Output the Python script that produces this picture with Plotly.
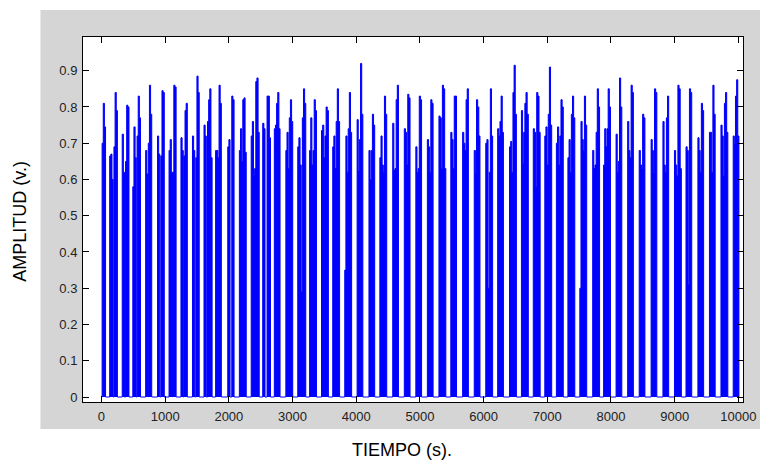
import plotly.graph_objects as go

# ---- data (time in s, amplitude in v.) ----
burst_start = [10, 129, 196, 326, 378, 492, 559, 694, 735, 880, 932, 1061, 1118,
               1248, 1294, 1429, 1481, 1610, 1665, 1792, 1983, 2046, 2165, 2351,
               2532, 2600, 2714, 2895, 3082, 3268, 3455, 3631, 3820, 4014, 4200,
               4371, 4573, 4755, 4936, 5117, 5299, 5485, 5671, 5853, 6034, 6221,
               6407, 6594, 6780, 6961, 7143, 7324, 7511, 7713, 7884, 8080, 8262,
               8443, 8630, 8816, 8997, 9178, 9365, 9546, 9727, 9919]

burst_values = [
    [0.70, 0.81, 0.745],
    [0.665, 0.67, 0.60],
    [0.69, 0.84, 0.79],
    [0.725, 0.62],
    [0.65, 0.805, 0.80],
    [0.58, 0.745, 0.66],
    [0.72, 0.83, 0.77],
    [0.68, 0.615],
    [0.70, 0.86, 0.78],
    [0.72, 0.67],
    [0.665, 0.845, 0.84],
    [0.68, 0.71, 0.62],
    [0.62, 0.86, 0.855],
    [0.715, 0.68],
    [0.665, 0.79, 0.81],
    [0.72, 0.68],
    [0.66, 0.885, 0.84],
    [0.75, 0.72],
    [0.76, 0.82, 0.85, 0.66],
    [0.68, 0.68, 0.66, 0.86, 0.81],
    [0.69, 0.71],
    [0.83, 0.82],
    [0.68, 0.74, 0.65, 0.82, 0.825, 0.675],
    [0.72, 0.76, 0.61, 0.63, 0.87, 0.88, 0.73],
    [0.755, 0.74],
    [0.83, 0.83, 0.715],
    [0.74, 0.75, 0.81, 0.84, 0.74],
    [0.68, 0.73, 0.63, 0.77, 0.82, 0.76],
    [0.69, 0.715, 0.64, 0.29, 0.77, 0.85, 0.81],
    [0.68, 0.77, 0.64, 0.68, 0.82, 0.79],
    [0.735, 0.75, 0.66, 0.72, 0.80, 0.79],
    [0.69, 0.72, 0.63, 0.76, 0.85, 0.76],
    [0.35, 0.72, 0.62, 0.74, 0.84, 0.73],
    [0.765, 0.625, 0.71, 0.92, 0.78],
    [0.68, 0.60, 0.68, 0.78, 0.75],
    [0.66, 0.72, 0.64, 0.62, 0.83, 0.78],
    [0.755, 0.625, 0.63, 0.82, 0.86],
    [0.74, 0.73, 0.64, 0.835, 0.825],
    [0.69, 0.62, 0.63, 0.83, 0.82],
    [0.71, 0.69, 0.62, 0.82, 0.81],
    [0.775, 0.77, 0.63, 0.86, 0.85, 0.63],
    [0.73, 0.71, 0.63, 0.83, 0.83],
    [0.73, 0.70, 0.68, 0.82, 0.85],
    [0.68, 0.62, 0.82, 0.80, 0.72],
    [0.70, 0.71, 0.30, 0.62, 0.85, 0.72],
    [0.74, 0.72, 0.76, 0.83, 0.73],
    [0.69, 0.705, 0.62, 0.84, 0.915, 0.78],
    [0.79, 0.645, 0.73, 0.81, 0.84, 0.78],
    [0.74, 0.73, 0.58, 0.84, 0.83, 0.73],
    [0.72, 0.745, 0.64, 0.78, 0.91, 0.75],
    [0.70, 0.745, 0.64, 0.72, 0.82, 0.80],
    [0.66, 0.71, 0.62, 0.78, 0.83, 0.77],
    [0.30, 0.76, 0.71, 0.68, 0.83, 0.75],
    [0.68, 0.63, 0.64, 0.73, 0.85, 0.80],
    [0.64, 0.74, 0.69, 0.74, 0.85, 0.80],
    [0.725, 0.62, 0.65, 0.88, 0.80],
    [0.76, 0.68, 0.66, 0.86, 0.84],
    [0.68, 0.64, 0.63, 0.78, 0.77],
    [0.71, 0.68, 0.62, 0.85, 0.84],
    [0.76, 0.64, 0.62, 0.77, 0.83],
    [0.68, 0.64, 0.61, 0.86, 0.85, 0.63],
    [0.69, 0.68, 0.31, 0.85, 0.84],
    [0.715, 0.68, 0.62, 0.81, 0.79],
    [0.73, 0.73, 0.62, 0.86, 0.78],
    [0.75, 0.72, 0.61, 0.81, 0.84, 0.73],
    [0.72, 0.70, 0.83, 0.875, 0.72],
]

sample_dt = 18          # s between samples inside a burst
t_start, t_end = 0, 10000

x_ticks = [0, 1000, 2000, 3000, 4000, 5000, 6000, 7000, 8000, 9000, 10000]
x_tick_labels = ["0", "1000", "2000", "3000", "4000", "5000", "6000",
                 "7000", "8000", "9000", "10000"]
y_ticks = [0, 0.1, 0.2, 0.3, 0.4, 0.5, 0.6, 0.7, 0.8, 0.9]
y_tick_labels = ["0", "0.1", "0.2", "0.3", "0.4", "0.5", "0.6", "0.7", "0.8", "0.9"]

# ---- build the signal ----
xs, ys = [t_start], [0.0]
for t0, vals in zip(burst_start, burst_values):
    for k, v in enumerate(vals):
        xs.append(t0 + k * sample_dt)
        ys.append(v)
    xs.append(t0 + len(vals) * sample_dt)
    ys.append(0.0)
xs.append(t_end)
ys.append(0.0)

BLUE = "#0000ff"
fig = go.Figure()
fig.add_trace(go.Scatter(
    x=xs, y=ys, mode="lines",
    line=dict(color=BLUE, width=1, shape="hv"),
    fill="tozeroy", fillcolor=BLUE,
    hoverinfo="skip", showlegend=False,
))

# page has an 8px body margin: the figure starts at (8, 8)
OFF = 8
W, H = 768 - OFF, 461 - OFF
L, R, T, B = 83 - OFF, 18, 37 - OFF, 59
pw, ph = W - L - R, H - T - B

def px(x):  # page pixel x -> paper
    return (x - OFF - L) / pw

def py(y):  # page pixel y -> paper
    return (H - B - (y - OFF)) / ph

tick_font = dict(family="Arial, Liberation Sans, sans-serif", size=13, color="#222222")
axis_common = dict(
    ticks="inside", ticklen=6, tickwidth=1, tickcolor="#000000",
    showline=True, linecolor="#000000", linewidth=1, mirror="ticks",
    showgrid=False, zeroline=False, tickfont=tick_font, fixedrange=True,
)

fig.update_layout(
    width=W, height=H,
    margin=dict(l=L, r=R, t=T, b=B, pad=0),
    paper_bgcolor="#ffffff", plot_bgcolor="#ffffff",
    xaxis=dict(range=[-290, 10073], tickmode="array", tickvals=x_ticks,
               ticktext=x_tick_labels, ticklabelstandoff=2, **axis_common),
    yaxis=dict(range=[-0.0138, 0.993], tickmode="array", tickvals=y_ticks,
               ticktext=y_tick_labels, ticklabelstandoff=2, **axis_common),
    shapes=[
        dict(type="rect", xref="paper", yref="paper",
             x0=px(40), x1=px(768), y0=py(429), y1=py(10),
             fillcolor="#d5d5d5", line=dict(width=0), layer="below"),
        dict(type="rect", xref="paper", yref="paper",
             x0=0, x1=1, y0=0, y1=1,
             fillcolor="#ffffff", line=dict(width=0), layer="below"),
    ],
    annotations=[
        dict(text="TIEMPO (s).", xref="paper", yref="paper",
             x=px(405), y=py(450), xanchor="center", yanchor="middle",
             showarrow=False,
             font=dict(family="Arial, Liberation Sans, sans-serif", size=18, color="#000000")),
        dict(text="AMPLITUD (v.)", xref="paper", yref="paper",
             x=px(19), y=py(221), xanchor="center", yanchor="middle",
             textangle=-90, showarrow=False,
             font=dict(family="Arial, Liberation Sans, sans-serif", size=18, color="#000000")),
    ],
)

fig.write_html("out.html")
